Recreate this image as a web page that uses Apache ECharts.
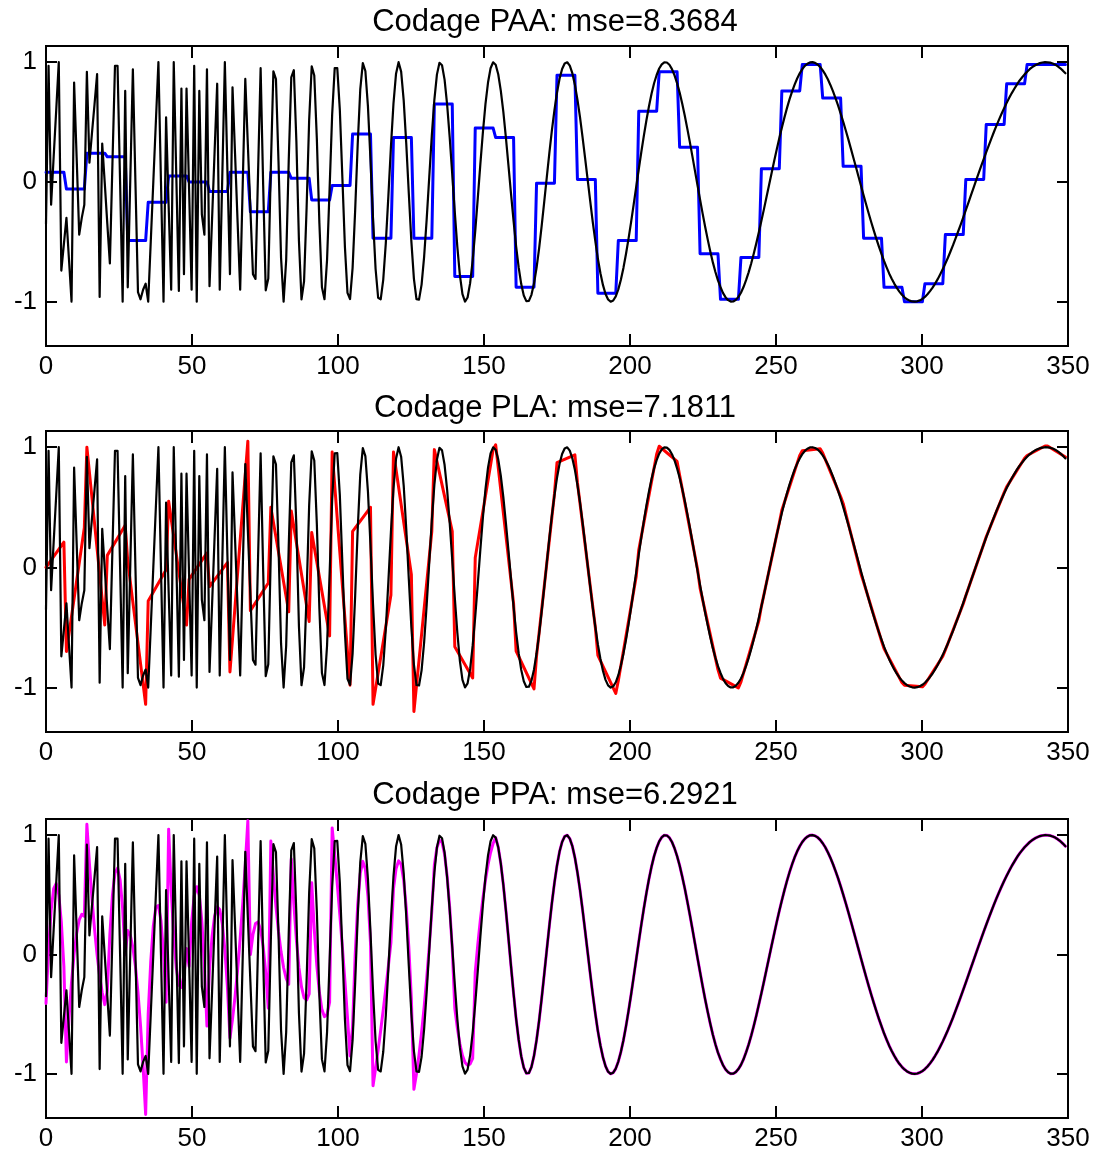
<!DOCTYPE html>
<html>
<head>
<meta charset="utf-8">
<script src="https://cdn.jsdelivr.net/npm/echarts@6/dist/echarts.min.js"></script>
<style>
  html, body { margin: 0; padding: 0; background: #ffffff; }
  #chart { width: 1104px; height: 1155px; }
</style>
</head>
<body>
<div id="chart"></div>
<script>
// Chirp signal: 400 samples spread over 0..350
const signal = [
  -0.35,0.97,-0.19,0.21,0.6,1.0,-0.74,-0.52,-0.3,-0.65,
  -1.0,0.83,0.2,-0.44,-0.3,-0.19,0.92,0.16,0.41,0.65,
  0.9,-0.96,0.32,-0.01,-0.35,-0.68,0.15,0.97,0.97,0.0,
  -1.0,0.76,-0.88,0.03,0.94,0.0,-0.92,-0.98,-0.9,-0.85,
  -1.0,-0.5,0.0,0.5,1.0,0.0,-1.0,0.54,-0.2,-0.9,
  1.0,0.05,-0.91,0.78,-0.77,0.78,-0.06,-0.9,0.97,-1.0,
  0.76,-0.27,-0.44,0.94,-0.87,-0.31,0.26,0.82,-0.9,0.05,
  1.0,0.1,-0.77,0.79,0.23,-0.34,-0.9,-0.02,0.86,0.31,
  -0.23,-0.77,-0.81,0.08,0.95,-0.031,-0.905,-0.806,0.12,0.924,
  0.858,0.171,-0.635,-1.0,-0.652,0.176,0.873,0.933,0.337,-0.492,
  -0.981,-0.831,-0.216,0.518,0.966,0.889,0.364,-0.344,-0.879,-0.979,
  -0.652,-0.056,0.563,0.95,0.951,0.602,0.035,-0.545,-0.927,-0.978,
  -0.718,-0.238,0.315,0.772,0.992,0.926,0.633,0.185,-0.309,-0.727,
  -0.967,-0.98,-0.815,-0.511,-0.119,0.293,0.655,0.904,1.0,0.921,
  0.681,0.32,-0.097,-0.496,-0.809,-0.979,-0.983,-0.857,-0.623,-0.311,
  0.041,0.388,0.686,0.896,0.995,0.974,0.854,0.646,0.373,0.064,
  -0.253,-0.544,-0.781,-0.937,-0.999,-0.965,-0.845,-0.654,-0.411,-0.135,
  0.148,0.415,0.65,0.83,0.949,0.999,0.979,0.899,0.763,0.584,
  0.37,0.139,-0.097,-0.326,-0.538,-0.714,-0.853,-0.948,-0.995,-0.993,
  -0.943,-0.849,-0.717,-0.555,-0.367,-0.167,0.038,0.24,0.43,0.6,
  0.746,0.862,0.943,0.989,0.999,0.971,0.908,0.812,0.687,0.541,
  0.375,0.199,0.019,-0.161,-0.335,-0.495,-0.642,-0.763,-0.862,-0.936,
  -0.982,-1.0,-0.99,-0.956,-0.897,-0.817,-0.718,-0.602,-0.473,-0.335,
  -0.19,-0.042,0.106,0.25,0.387,0.515,0.632,0.736,0.824,0.893,
  0.947,0.982,0.999,0.997,0.978,0.942,0.89,0.824,0.746,0.654,
  0.555,0.445,0.332,0.213,0.092,-0.029,-0.148,-0.265,-0.377,-0.482,
  -0.581,-0.672,-0.752,-0.822,-0.879,-0.928,-0.964,-0.987,-0.999,-0.998,
  -0.985,-0.96,-0.925,-0.878,-0.82,-0.755,-0.681,-0.6,-0.513,-0.42,
  -0.325,-0.227,-0.126,-0.025,0.075,0.174,0.271,0.364,0.453,0.537,
  0.616,0.689,0.754,0.813,0.864,0.907,0.942,0.969,0.987,0.998,
  1.0,0.994,0.981,0.96,0.932,0.898,0.857,0.81,0.758,0.7,
  0.639,0.573,0.503,0.431,0.357,0.28,0.202,0.124,0.045,-0.034,
  -0.112,-0.189,-0.264,-0.337,-0.407,-0.475,-0.54,-0.601,-0.66,-0.713,
  -0.764,-0.808,-0.849,-0.885,-0.916,-0.942,-0.963,-0.98,-0.991,-0.998,
  -1.0,-0.997,-0.989,-0.977,-0.96,-0.938,-0.912,-0.883,-0.849,-0.812,
  -0.771,-0.728,-0.681,-0.633,-0.581,-0.528,-0.471,-0.414,-0.356,-0.296,
  -0.236,-0.175,-0.113,-0.052,0.01,0.071,0.131,0.191,0.249,0.306,
  0.362,0.417,0.47,0.52,0.569,0.616,0.66,0.702,0.742,0.778,
  0.813,0.845,0.872,0.898,0.92,0.941,0.958,0.972,0.983,0.992,
  0.997,1.0,0.999,0.996,0.989,0.979,0.965,0.949,0.929,0.907
];

// PAA: one mean per segment of 8 samples
const paaMeans = [
  0.08,-0.06,0.24,0.21,-0.49,-0.17,0.05,0.0,-0.08,0.08,
  -0.25,0.08,0.03,-0.15,-0.03,0.40,-0.47,0.37,-0.47,0.65,
  -0.79,0.45,0.37,-0.88,-0.01,0.89,0.02,-0.93,-0.49,0.59,
  0.92,0.29,-0.60,-0.98,-0.63,0.11,0.76,0.98,0.70,0.13,
  -0.47,-0.88,-1.0,-0.85,-0.44,0.02,0.48,0.82,0.98,0.98
];

// PLA: value of each fitted segment at its first and last sample
const plaStart = [
  0.0,-0.70,1.0,0.1,0.05,-0.28,0.55,-0.1,-0.16,-0.87,
  -0.36,0.5,0.47,0.29,0.96,0.3,-1.14,0.96,-1.2,0.98,
  -0.66,0.08,1.02,-0.696,-0.736,0.871,0.705,-0.733,-0.943,0.145,
  1.008,0.767,-0.173,-0.922,-0.953,-0.324,0.476,0.970,0.951,0.532,
  -0.121,-0.676,-0.980,-0.973,-0.688,-0.236,0.255,0.670,0.931,1.010
];
const plaEnd = [
  0.21,0.33,-0.48,0.35,-1.14,-0.02,-0.48,0.12,0.04,1.05,
  -0.13,-0.37,-0.45,-0.57,-0.98,0.5,-0.23,-0.06,0.3,0.3,
  -0.92,0.98,-0.3,-1.012,0.611,0.937,-0.498,-1.049,-0.076,0.941,
  0.882,-0.015,-0.851,-1.003,-0.445,0.369,0.932,0.988,0.590,-0.055,
  -0.611,-0.958,-0.994,-0.740,-0.302,0.192,0.622,0.908,1.010,0.918
];

// PPA: reconstructed signal, 8 samples per segment
const ppaValues = [
  -0.41,0.048,0.368,0.551,0.595,0.5,0.27,-0.1,
  -0.9,-0.535,-0.232,0.005,0.179,0.29,0.337,0.32,
  1.09,0.759,0.467,0.213,-0.003,-0.18,-0.319,-0.42,
  -0.3,0.169,0.496,0.682,0.724,0.625,0.384,0.0,
  0.2,0.161,0.061,-0.098,-0.317,-0.597,-0.938,-1.34,
  -0.5,-0.059,0.239,0.395,0.41,0.282,0.012,-0.4,
  1.05,0.54,0.152,-0.113,-0.256,-0.276,-0.174,0.05,
  -0.1,0.27,0.491,0.568,0.496,0.277,-0.087,-0.6,
  -0.12,0.151,0.322,0.399,0.377,0.258,0.043,-0.27,
  -0.7,-0.542,-0.351,-0.126,0.134,0.428,0.756,1.12,
  0.0,0.169,0.259,0.273,0.208,0.066,-0.152,-0.45,
  0.95,0.656,0.404,0.191,0.02,-0.111,-0.201,-0.25,
  0.8,0.426,0.122,-0.111,-0.272,-0.362,-0.382,-0.33,
  0.6,0.212,-0.093,-0.319,-0.462,-0.521,-0.502,-0.4,
  1.06,0.834,0.591,0.334,0.062,-0.226,-0.53,-0.85,
  -0.6,-0.009,0.416,0.68,0.78,0.716,0.49,0.1,
  -1.1,-0.953,-0.798,-0.635,-0.464,-0.284,-0.097,0.1,
  0.55,0.718,0.784,0.754,0.622,0.391,0.061,-0.37,
  -1.13,-0.999,-0.839,-0.653,-0.441,-0.201,0.065,0.36,
  0.75,0.895,0.958,0.94,0.84,0.657,0.395,0.05,
  -0.45,-0.617,-0.75,-0.846,-0.905,-0.929,-0.917,-0.87,
  -0.15,0.083,0.29,0.47,0.624,0.752,0.854,0.93,
  0.979,0.899,0.763,0.584,0.37,0.139,-0.097,-0.326,
  -0.538,-0.714,-0.853,-0.948,-0.995,-0.993,-0.943,-0.849,
  -0.717,-0.555,-0.367,-0.167,0.038,0.24,0.43,0.6,
  0.746,0.862,0.943,0.989,0.999,0.971,0.908,0.812,
  0.687,0.541,0.375,0.199,0.019,-0.161,-0.335,-0.495,
  -0.642,-0.763,-0.862,-0.936,-0.982,-1.0,-0.99,-0.956,
  -0.897,-0.817,-0.718,-0.602,-0.473,-0.335,-0.19,-0.042,
  0.106,0.25,0.387,0.515,0.632,0.736,0.824,0.893,
  0.947,0.982,0.999,0.997,0.978,0.942,0.89,0.824,
  0.746,0.654,0.555,0.445,0.332,0.213,0.092,-0.029,
  -0.148,-0.265,-0.377,-0.482,-0.581,-0.672,-0.752,-0.822,
  -0.879,-0.928,-0.964,-0.987,-0.999,-0.998,-0.985,-0.96,
  -0.925,-0.878,-0.82,-0.755,-0.681,-0.6,-0.513,-0.42,
  -0.325,-0.227,-0.126,-0.025,0.075,0.174,0.271,0.364,
  0.453,0.537,0.616,0.689,0.754,0.813,0.864,0.907,
  0.942,0.969,0.987,0.998,1.0,0.994,0.981,0.96,
  0.932,0.898,0.857,0.81,0.758,0.7,0.639,0.573,
  0.503,0.431,0.357,0.28,0.202,0.124,0.045,-0.034,
  -0.112,-0.189,-0.264,-0.337,-0.407,-0.475,-0.54,-0.601,
  -0.66,-0.713,-0.764,-0.808,-0.849,-0.885,-0.916,-0.942,
  -0.963,-0.98,-0.991,-0.998,-1.0,-0.997,-0.989,-0.977,
  -0.96,-0.938,-0.912,-0.883,-0.849,-0.812,-0.771,-0.728,
  -0.681,-0.633,-0.581,-0.528,-0.471,-0.414,-0.356,-0.296,
  -0.236,-0.175,-0.113,-0.052,0.01,0.071,0.131,0.191,
  0.249,0.306,0.362,0.417,0.47,0.52,0.569,0.616,
  0.66,0.702,0.742,0.778,0.813,0.845,0.872,0.898,
  0.92,0.941,0.958,0.972,0.983,0.992,0.997,1.0,
  0.999,0.996,0.989,0.979,0.965,0.949,0.929,0.907
];

const titles = [
  'Codage PAA: mse=8.3684',
  'Codage PLA: mse=7.1811',
  'Codage PPA: mse=6.2921'
];
const xTicks = [0, 50, 100, 150, 200, 250, 300, 350];
const yTicks = [-1, 0, 1];

const STEP = 350 / 400;   // spacing between samples on the x axis
const SEG = 8;            // samples per segment
const FONT = '"Liberation Sans", Arial, Helvetica, sans-serif';

function samplePoints(vals) {
  return vals.map((v, i) => [i * STEP, v]);
}
function segmentPoints(starts, ends) {
  const out = [];
  for (let k = 0; k < starts.length; k++) {
    out.push([k * SEG * STEP, starts[k]]);
    out.push([(k * SEG + SEG - 1) * STEP, ends[k]]);
  }
  return out;
}

const panels = [
  { top: 46,  height: 300, titleY: 22,  color: '#0000ff', data: segmentPoints(paaMeans, paaMeans) },
  { top: 431, height: 301, titleY: 408, color: '#ff0000', data: segmentPoints(plaStart, plaEnd) },
  { top: 819, height: 299, titleY: 795, color: '#ff00ff', data: samplePoints(ppaValues) }
];

const X_MIN = xTicks[0], X_MAX = xTicks[xTicks.length - 1];
const Y_MIN = -1.37, Y_MAX = 1.135;

const grid = [], xAxis = [], yAxis = [], series = [], graphic = [];
const signalPts = samplePoints(signal);
const tickStyle = { color: '#000', width: 2 };

panels.forEach((p, g) => {
  grid.push({
    left: 46, width: 1022, top: p.top, height: p.height,
    show: true, borderColor: '#000', borderWidth: 2,
    backgroundColor: 'transparent', containLabel: false, outerBoundsMode: 'none'
  });
  const xBase = {
    gridIndex: g, type: 'value', min: X_MIN, max: X_MAX, interval: 50,
    splitLine: { show: false }, axisLine: { show: false, onZero: false },
    axisTick: { show: true, inside: true, length: 12, lineStyle: tickStyle }
  };
  xAxis.push(Object.assign({}, xBase, {
    position: 'bottom',
    axisLabel: { show: true, color: '#000', fontSize: 26, fontFamily: FONT, margin: 8 }
  }));
  xAxis.push(Object.assign({}, xBase, { position: 'top', axisLabel: { show: false } }));

  const yBase = {
    gridIndex: g, type: 'value', min: Y_MIN, max: Y_MAX,
    splitLine: { show: false }, axisLine: { show: false, onZero: false },
    axisTick: { show: true, inside: true, length: 11, customValues: yTicks, lineStyle: tickStyle }
  };
  yAxis.push(Object.assign({}, yBase, {
    position: 'left',
    axisLabel: { show: true, customValues: yTicks, color: '#000', fontSize: 26, fontFamily: FONT, margin: 9 }
  }));
  yAxis.push(Object.assign({}, yBase, { position: 'right', axisLabel: { show: false } }));

  series.push({
    type: 'line', xAxisIndex: 2 * g, yAxisIndex: 2 * g, data: p.data,
    symbol: 'none', showSymbol: false, silent: true, z: 2,
    lineStyle: { color: p.color, width: 3, join: 'round', cap: 'round' }
  });
  series.push({
    type: 'line', xAxisIndex: 2 * g, yAxisIndex: 2 * g, data: signalPts,
    symbol: 'none', showSymbol: false, silent: true, z: 3,
    lineStyle: { color: '#000', width: 2.2, join: 'round', cap: 'round' }
  });

  graphic.push({
    type: 'text', x: 555, y: p.titleY, silent: true,
    style: { text: titles[g], fill: '#000', fontSize: 31, fontFamily: FONT,
             align: 'center', verticalAlign: 'middle' }
  });
});

const chart = echarts.init(document.getElementById('chart'), null, { renderer: 'canvas' });
chart.setOption({
  animation: false,
  backgroundColor: '#ffffff',
  grid, xAxis, yAxis, series, graphic
});
</script>
</body>
</html>
